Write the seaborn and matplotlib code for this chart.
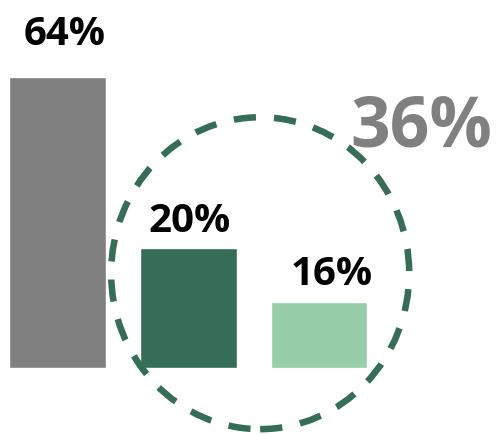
"""
Share chart: one large grey bar, two green bars grouped inside a dashed circle
"""

import matplotlib
matplotlib.use("Agg")
import matplotlib.pyplot as plt
from matplotlib.patches import Ellipse
import seaborn as sns

# Data
categories = ["Other", "Group A", "Group B"]
bar_heights = [63.5, 26.2, 14.4]       # drawn heights, same scale as the grey 64%
bar_labels = ["64%", "20%", "16%"]
group_label = "36%"
colors = ["#808080", "#356d57", "#97cea9"]

sns.set_theme(style="white")
plt.rcParams["font.family"] = ["Open Sans", "DejaVu Sans"]
plt.rcParams["lines.scale_dashes"] = False

fig = plt.figure(figsize=(4.99, 4.35), dpi=100)
ax = fig.add_axes([0, 0, 1, 1])

sns.barplot(x=categories, y=bar_heights, hue=categories, palette=colors,
            width=0.74, saturation=1, legend=False, ax=ax)

# Value labels above each bar (offsets in points)
label_offsets = [(5, 24), (1, 12), (9, 13)]
for i, (h, lab) in enumerate(zip(bar_heights, bar_labels)):
    ax.annotate(lab, xy=(i, h), xytext=label_offsets[i], textcoords="offset points",
                ha="center", va="baseline", fontsize=29, fontweight="bold", color="black")

# Dashed circle around the two green bars
ring = Ellipse((1.55, 20.7), width=2.28, height=68.1, fill=False,
               edgecolor=colors[1], linewidth=4.7, linestyle=(0, (16, 13)))
ax.add_patch(ring)

ax.text(2.24, 48.5, group_label, ha="left", va="baseline",
        fontsize=50, fontweight="bold", color="#808080")

ax.set_xlim(-0.44, 3.377)
ax.set_ylim(-14.41, 80.57)
ax.axis("off")

fig.savefig("out.png", dpi=100)
